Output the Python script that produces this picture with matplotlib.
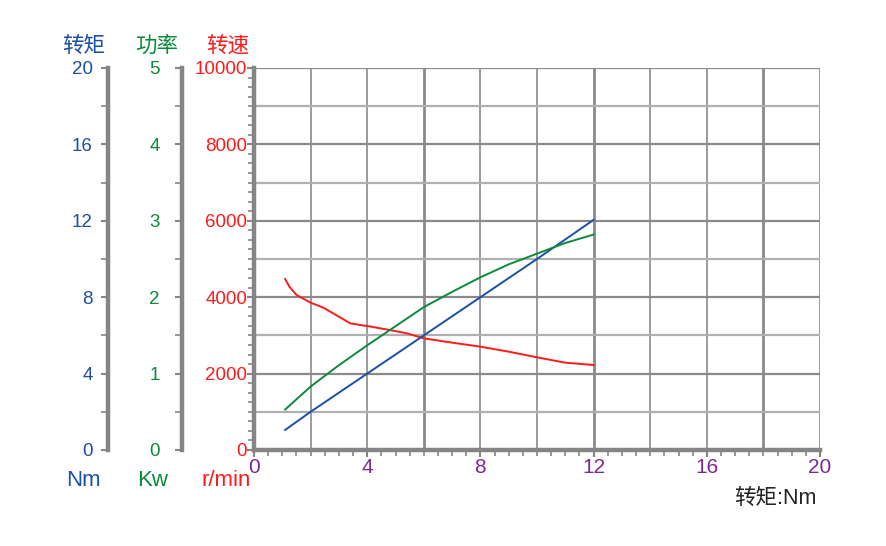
import numpy as np
import matplotlib
matplotlib.use('Agg')
import matplotlib.pyplot as plt
from matplotlib.ticker import MultipleLocator

plt.rcParams['font.family'] = ['Liberation Sans', 'Noto Sans CJK SC', 'DejaVu Sans']

# data
torque_x = [1.1, 2, 4, 6, 8, 10, 12]
torque_y = [1.05, 2.0, 4.0, 6.0, 8.0, 10.0, 12.05]

power_x = [1.1, 2, 3, 4, 5, 5.4, 6, 7, 8, 9, 10, 11, 12]
power_y = [0.53, 0.83, 1.11, 1.37, 1.62, 1.72, 1.87, 2.07, 2.26, 2.43, 2.57, 2.71, 2.82]

speed_x = [1.1, 1.25, 1.5, 2, 2.45, 3, 3.4, 3.75, 4, 4.8, 5.4, 6, 7, 8, 9, 10, 11, 12]
speed_y = [4476, 4276, 4058, 3857, 3726, 3490, 3316, 3272, 3246, 3141, 3054, 2923,
           2810, 2705, 2574, 2426, 2286, 2225]

blue = '#1a4fa6'
green = '#0b8a3c'
red = '#ff1a1a'
purple = '#7a2a98'
gray = '#858585'

fig = plt.figure(figsize=(8.86, 5.46), dpi=100)
ax = fig.add_axes([254/886, 1-450/546, 566/886, 382/546])

ax.set_xlim(0, 20)
ax.set_ylim(0, 10000)

# grid
for gx in range(2, 21, 2):
    lw = 2.0 if gx % 6 == 0 else 1.2
    ax.axvline(gx, color='#8a8a8a', lw=lw, zorder=1)
for gy in range(1000, 10001, 1000):
    c = '#8a8a8a' if gy % 2000 == 0 else '#b0b0b0'
    ax.axhline(gy, color=c, lw=1.6, zorder=1)

for s in ['top', 'right']:
    ax.spines[s].set_visible(False)
for s in ['left', 'bottom']:
    ax.spines[s].set_color(gray)
    ax.spines[s].set_linewidth(3.2)

ax.xaxis.set_major_locator(MultipleLocator(4))
ax.xaxis.set_minor_locator(MultipleLocator(0.5))
ax.yaxis.set_major_locator(MultipleLocator(2000))
ax.yaxis.set_minor_locator(MultipleLocator(250))
ax.tick_params(axis='x', which='major', colors=gray, labelcolor=purple, labelsize=15, length=5, width=1.5, pad=1)
ax.tick_params(axis='x', which='minor', colors=gray, length=4, width=1.2)
ax.tick_params(axis='y', which='major', colors=gray, labelcolor=red, labelsize=13.5, length=5, width=1.5, pad=0)
ax.tick_params(axis='y', which='minor', colors=gray, length=4, width=1.2)

ax.plot(speed_x, speed_y, color=red, lw=1.4, zorder=3)

# torque axis
ax_t = ax.twinx()
ax_t.set_ylim(0, 20)
ax_t.spines['right'].set_visible(False)
ax_t.spines['top'].set_visible(False)
ax_t.spines['bottom'].set_visible(False)
ax_t.spines['left'].set_visible(True)
ax_t.spines['left'].set_position(('outward', 105))
ax_t.spines['left'].set_color(gray)
ax_t.spines['left'].set_linewidth(3.2)
ax_t.yaxis.set_ticks_position('left')
ax_t.yaxis.set_major_locator(MultipleLocator(4))
ax_t.yaxis.set_minor_locator(MultipleLocator(2))
ax_t.tick_params(axis='y', which='major', colors=gray, labelcolor=blue, labelsize=13.5, length=5, width=1.5, pad=6)
ax_t.tick_params(axis='y', which='minor', colors=gray, length=5, width=1.2)
ax_t.plot(torque_x, torque_y, color=blue, lw=1.4, zorder=3)

# power axis
ax_p = ax.twinx()
ax_p.set_ylim(0, 5)
ax_p.spines['right'].set_visible(False)
ax_p.spines['top'].set_visible(False)
ax_p.spines['bottom'].set_visible(False)
ax_p.spines['left'].set_visible(True)
ax_p.spines['left'].set_position(('outward', 52))
ax_p.spines['left'].set_color(gray)
ax_p.spines['left'].set_linewidth(3.2)
ax_p.yaxis.set_ticks_position('left')
ax_p.yaxis.set_major_locator(MultipleLocator(1))
ax_p.yaxis.set_minor_locator(MultipleLocator(0.5))
ax_p.tick_params(axis='y', which='major', colors=gray, labelcolor=green, labelsize=13.5, length=5, width=1.5, pad=11)
ax_p.tick_params(axis='y', which='minor', colors=gray, length=5, width=1.2)
ax_p.plot(power_x, power_y, color=green, lw=1.4, zorder=3)

# headers and units
fig.text(84/886, 1-46/546, '转矩', color=blue, fontsize=15.5, ha='center', va='center')
fig.text(157/886, 1-46/546, '功率', color=green, fontsize=15.5, ha='center', va='center')
fig.text(228/886, 1-46/546, '转速', color=red, fontsize=15.5, ha='center', va='center')
fig.text(83/886, 1-481/546, 'Nm', color=blue, fontsize=16, ha='center', va='center')
fig.text(153/886, 1-481/546, 'Kw', color=green, fontsize=16, ha='center', va='center')
fig.text(226/886, 1-481/546, 'r/min', color=red, fontsize=16, ha='center', va='center')
fig.text(775/886, 1-498/546, '转矩:Nm', color='#222222', fontsize=15.5, ha='center', va='center')

fig.savefig('out.png', dpi=100)
